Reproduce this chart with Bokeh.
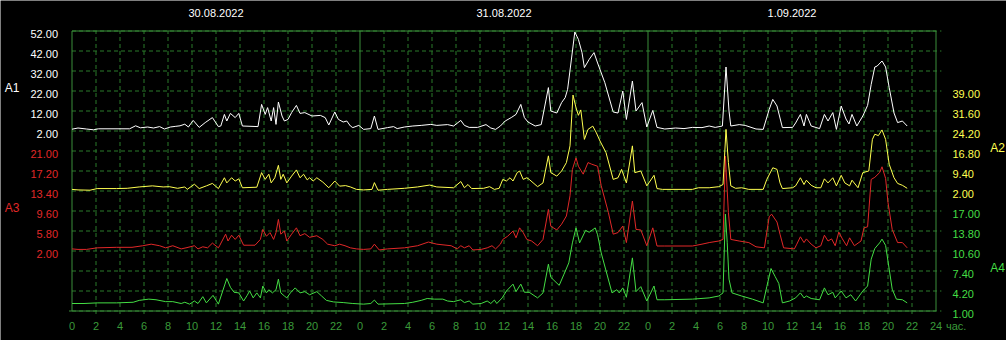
from bokeh.plotting import figure
from bokeh.models import Range1d
from bokeh.core.properties import value
from bokeh.embed import file_html
from bokeh.resources import INLINE

# ---------------- data (hours from 30.08.2022 00:00) ----------------
dates = ["30.08.2022", "31.08.2022", "1.09.2022"]
date_pos = [12, 36, 60]
hour_ticks = list(range(0, 73, 2))

a1_t = [0, 0.5, 1.2, 1.8, 2.2, 4.8, 5.3, 5.7, 6.3, 6.8, 7.3, 7.7, 8.2, 8.6, 9.0, 9.4, 9.7, 10.1, 10.6, 11.1,
        11.7, 12.2, 12.4, 12.7, 12.9, 13.2, 13.6, 13.9, 14.2, 15.5, 15.8, 16.1, 16.3, 16.6, 16.8, 17.0, 17.2,
        17.5, 17.7, 18.0, 18.3, 18.7, 19.0, 19.4, 20.0, 20.7, 21.1, 21.4, 21.9, 22.2, 22.6, 22.9, 23.2, 23.4,
        23.9, 24.3, 24.9, 25.2, 25.5, 26.3, 26.8, 27.1, 27.7, 28.4, 29.1, 29.9, 30.4, 31.3, 31.8, 32.4, 32.7,
        33.1, 33.8, 34.5, 34.9, 35.3, 35.7, 36.1, 36.6, 37.0, 37.4, 37.7, 38.0, 38.6, 39.1, 39.7, 39.9, 40.4,
        40.8, 41.1, 41.3, 41.6, 41.9, 42.2, 42.5, 42.7, 43.1, 43.5, 43.8, 44.4, 45.1, 45.5, 45.9, 46.2, 46.7,
        47.0, 47.5, 47.9, 48.4, 48.75, 49.4, 50.3, 51.0, 51.7, 52.5, 53.1, 53.6, 54.2, 54.5, 54.75, 54.9, 55.6,
        56.1, 57.0, 57.6, 58.1, 58.4, 58.75, 59.2, 60.05, 60.3, 60.7, 61.0, 61.2, 61.6, 62.3, 62.7, 63.0, 63.4,
        63.7, 64.1, 64.5, 64.75, 65.0, 65.4, 65.9, 66.3, 66.6, 66.9, 67.1, 67.5, 67.8, 68.1, 68.5, 68.8, 69.2,
        69.6]
a1_v = [2.9, 3.5, 3.0, 2.6, 3.1, 3.1, 4.6, 3.6, 4.0, 3.5, 4.2, 3.0, 4.0, 4.3, 4.6, 5.4, 4.0, 7.3, 3.8, 6.2,
        8.7, 4.2, 4.5, 10.3, 7.0, 10.8, 8.7, 10.8, 4.5, 4.2, 15.3, 10.3, 13.7, 7.0, 13.7, 5.3, 16.5,
        9.5, 7.0, 7.8, 11.2, 14.8, 10.8, 11.2, 9.5, 9.8, 8.7, 5.0, 11.5, 7.8, 6.5, 7.0, 4.5, 3.7,
        4.8, 2.8, 3.2, 9.5, 2.8, 3.7, 4.2, 3.2, 4.0, 4.5, 4.8, 5.3, 4.8, 5.2, 4.5, 7.3, 4.8,
        3.8, 3.8, 5.2, 3.5, 2.8, 4.5, 7.0, 8.7, 10.3, 15.3, 8.7, 6.5, 4.5, 5.2, 23.7, 12.0, 11.0,
        16.2, 18.7, 22.8, 37.0, 51.5, 47.8, 41.2, 33.7, 37.8, 41.2, 36.0, 26.2, 11.5, 11.0, 22.0, 7.8, 27.0,
        12.0, 16.2, 4.0, 12.3, 3.8, 3.0, 3.5, 3.2, 3.8, 3.7, 4.5, 3.8, 4.5, 34.0, 12.0, 4.5, 5.2,
        4.8, 3.0, 2.8, 12.8, 17.8, 14.5, 3.7, 3.8, 6.0, 10.3, 4.5, 10.3, 4.5, 3.2, 10.3, 7.0, 11.2,
        2.8, 14.5, 8.0, 5.5, 10.3, 4.5, 9.5, 14.8, 25.3, 34.0, 34.5, 37.0, 34.0, 23.7, 11.0, 6.2, 7.0,
        4.5]

a2_t = [0, 0.5, 1.5, 2.1, 3.7, 4.6, 5.6, 6.7, 7.6, 8.1, 8.8, 9.4, 9.6, 10.2, 10.6, 11.2, 11.7, 12.2, 12.7,
        12.9, 13.3, 13.6, 13.9, 14.2, 15.4, 15.8, 16.1, 16.4, 16.6, 16.9, 17.2, 17.4, 17.6, 17.9, 18.3, 18.7,
        19.0, 19.3, 19.6, 19.8, 20.1, 20.4, 20.9, 21.4, 21.9, 22.3, 22.8, 23.2, 23.7, 24.3, 25.0, 25.2, 25.5,
        26.3, 27.7, 28.8, 29.8, 30.4, 31.8, 32.4, 32.7, 33.0, 33.3, 34.3, 34.8, 35.2, 35.6, 35.9, 36.2, 36.5,
        36.75, 37.1, 37.3, 37.6, 37.9, 38.1, 38.8, 39.25, 39.7, 39.9, 40.4, 40.8, 41.2, 41.5, 41.75, 42.0,
        42.2, 42.4, 42.7, 43.0, 43.4, 43.7, 44.0, 44.5, 45.1, 45.5, 45.8, 46.2, 46.7, 46.9, 47.4, 47.9, 48.5,
        48.75, 49.2, 51.7, 52.2, 53.1, 53.9, 54.25, 54.5, 54.7, 54.9, 55.3, 55.8, 56.4, 57.6, 57.9, 58.4,
        58.75, 59.0, 59.2, 60.05, 60.3, 60.7, 61.0, 61.2, 61.6, 62.0, 62.4, 62.7, 63.0, 63.4, 63.7, 64.1, 64.4,
        64.8, 65.0, 65.5, 65.9, 66.4, 66.7, 66.9, 67.2, 67.5, 67.8, 68.1, 68.5, 68.8, 69.2, 69.6]
a2_v = [2.6, 2.4, 2.3, 2.9, 2.9, 3.0, 3.5, 3.9, 3.5, 3.6, 3.0, 3.5, 2.6, 4.5, 2.9, 3.9, 4.8, 2.9, 6.9,
        5.0, 6.9, 5.7, 6.5, 3.2, 3.4, 8.8, 6.3, 8.2, 5.0, 6.9, 11.5, 6.3, 8.2, 5.0, 7.5, 9.8,
        6.9, 8.2, 6.1, 6.9, 5.7, 6.9, 5.3, 3.2, 5.7, 3.8, 4.0, 3.5, 2.6, 2.4, 2.6, 5.1, 2.3,
        2.6, 3.0, 3.5, 4.2, 3.5, 3.2, 5.5, 3.2, 4.4, 2.9, 3.0, 3.6, 2.6, 3.0, 6.3, 5.7, 6.9,
        5.7, 8.8, 9.4, 6.3, 6.9, 6.3, 3.6, 5.0, 15.0, 8.8, 7.5, 9.4, 12.5, 18.7, 37.5, 32.8,
        30.0, 32.0, 21.1, 24.8, 26.0, 23.5, 20.5, 16.2, 6.3, 6.9, 10.0, 5.0, 18.7, 8.8, 9.4, 3.9, 7.8,
        2.9, 2.6, 2.6, 3.2, 3.2, 3.6, 4.4, 24.8, 12.5, 3.9, 3.0, 3.2, 2.6, 2.6, 6.3, 10.6,
        10.0, 5.0, 2.9, 3.2, 3.9, 6.9, 4.4, 6.0, 4.1, 3.2, 3.2, 6.5, 5.0, 6.9, 3.9, 7.8, 5.0,
        3.9, 6.0, 3.2, 8.8, 9.4, 21.1, 23.0, 22.5, 24.6, 21.1, 11.9, 6.9, 4.8, 4.1, 3.0]

a3_t = [0, 0.5, 1.2, 2.1, 3.7, 5.0, 5.9, 6.6, 7.3, 7.8, 8.4, 9.1, 9.5, 10.2, 10.5, 10.9, 11.3, 11.7, 12.2,
        12.3, 12.8, 13.0, 13.3, 13.6, 13.9, 14.3, 15.25, 15.7, 15.9, 16.2, 16.5, 16.8, 17.0, 17.2, 17.4, 17.7,
        17.9, 18.3, 18.7, 19.0, 19.4, 19.8, 20.4, 20.9, 21.3, 21.9, 22.3, 22.75, 23.2, 23.7, 24.3, 24.9, 25.2,
        25.6, 26.3, 27.7, 28.8, 29.7, 30.4, 31.6, 32.1, 32.4, 32.7, 33.1, 33.4, 34.1, 34.6, 35.0, 35.3, 35.7,
        35.9, 36.3, 36.75, 37.0, 37.3, 37.6, 37.9, 38.3, 38.8, 39.25, 39.7, 39.9, 40.4, 40.8, 41.2, 41.5, 41.7,
        42.0, 42.2, 42.6, 43.0, 43.3, 43.8, 44.1, 44.7, 45.1, 45.5, 45.9, 46.2, 46.7, 47.0, 47.4, 47.9, 48.4,
        48.75, 49.4, 51.7, 52.5, 53.1, 53.9, 54.25, 54.45, 54.7, 54.9, 55.6, 56.4, 57.0, 57.7, 58.1, 58.3,
        58.75, 59.0, 59.3, 60.2, 60.4, 60.7, 61.0, 61.2, 61.6, 62.0, 62.4, 62.7, 63.0, 63.3, 63.6, 63.9, 64.2,
        64.55, 64.8, 65.2, 65.75, 66.0, 66.3, 66.6, 66.9, 67.3, 67.5, 67.8, 68.0, 68.35, 68.8, 69.2, 69.6]
a3_v = [2.4, 2.3, 2.3, 2.6, 2.7, 2.7, 3.0, 3.3, 3.0, 2.6, 3.0, 2.4, 2.6, 3.0, 2.4, 2.8, 2.6, 3.5, 2.6,
        3.0, 5.2, 3.9, 5.0, 4.2, 5.0, 3.1, 3.1, 4.2, 6.1, 4.8, 5.5, 4.2, 5.5, 8.0, 5.2, 5.8,
        3.9, 5.2, 6.4, 4.9, 5.3, 4.6, 4.9, 4.2, 3.3, 3.0, 3.3, 3.0, 2.6, 2.4, 2.3, 2.4, 3.3,
        2.2, 2.4, 2.6, 3.0, 3.7, 3.3, 3.0, 2.4, 3.0, 2.6, 3.0, 2.2, 2.3, 2.6, 3.0, 2.4, 3.3,
        4.2, 4.8, 5.8, 4.5, 6.4, 5.5, 4.2, 3.9, 3.0, 4.2, 9.9, 6.7, 6.0, 7.1, 8.65, 12.5, 17.5,
        19.7, 18.1, 16.6, 18.8, 18.5, 18.1, 14.4, 9.3, 5.2, 5.5, 6.75, 3.6, 11.5, 6.1, 6.0, 3.0, 6.4,
        2.95, 2.95, 2.95, 3.3, 3.6, 3.9, 4.2, 20.0, 9.3, 4.2, 3.9, 3.6, 2.8, 2.6, 8.5, 9.0,
        7.5, 5.2, 2.6, 2.4, 3.3, 4.7, 3.6, 4.3, 3.3, 2.6, 3.0, 5.0, 3.9, 4.3, 3.0, 5.6, 4.3,
        3.0, 4.5, 3.0, 3.9, 6.4, 6.6, 15.6, 16.0, 16.9, 18.0, 15.8, 11.2, 6.1, 3.6, 3.6, 2.6]

a4_t = [0, 1.0, 2.1, 3.7, 5.1, 5.6, 6.4, 7.0, 7.8, 8.4, 9.1, 9.4, 9.8, 10.2, 10.5, 10.9, 11.2, 11.75, 12.2,
        12.9, 13.2, 13.5, 13.9, 14.3, 14.6, 14.8, 15.1, 15.4, 15.7, 15.9, 16.2, 16.4, 16.7, 17.0, 17.2, 17.4,
        17.7, 17.9, 18.2, 18.6, 19.0, 19.4, 19.8, 20.4, 20.8, 21.2, 21.8, 22.6, 23.4, 24.3, 24.9, 25.2, 25.5,
        27.7, 28.4, 29.1, 29.6, 30.2, 30.9, 31.3, 31.8, 32.4, 32.7, 33.1, 33.4, 34.1, 34.6, 34.9, 35.2, 35.4,
        35.85, 36.2, 36.75, 37.0, 37.4, 37.7, 38.1, 38.8, 39.25, 39.7, 39.9, 40.6, 41.0, 41.4, 41.7, 42.0,
        42.3, 42.8, 43.1, 43.6, 43.8, 44.1, 45.0, 45.4, 45.6, 45.9, 46.2, 46.7, 47.0, 47.4, 47.9, 48.5, 48.75,
        49.4, 51.7, 53.1, 53.9, 54.25, 54.45, 54.6, 54.75, 55.0, 55.8, 56.7, 57.6, 57.9, 58.25, 58.6, 58.9,
        59.2, 59.8, 60.3, 60.7, 61.0, 61.2, 61.6, 62.3, 62.7, 63.0, 63.4, 63.6, 64.1, 64.5, 64.9, 65.3, 65.9,
        66.3, 66.6, 66.9, 67.3, 67.5, 67.8, 68.1, 68.35, 68.7, 69.2, 69.6]
a4_v = [2.2, 2.2, 2.3, 2.3, 2.4, 2.7, 2.9, 2.8, 2.5, 2.5, 2.2, 2.4, 2.1, 2.6, 2.2, 3.3, 2.3, 3.5, 2.1,
        6.2, 4.8, 4.0, 3.9, 2.6, 3.5, 4.2, 3.1, 3.9, 3.1, 5.0, 3.9, 4.4, 3.9, 4.4, 6.1, 3.9,
        3.4, 3.1, 3.9, 4.7, 3.9, 4.1, 3.6, 4.1, 3.4, 2.7, 2.45, 2.35, 2.2, 2.1, 2.2, 2.75, 2.1,
        2.2, 2.4, 2.7, 3.0, 2.9, 2.9, 2.6, 2.5, 2.8, 2.35, 2.6, 2.1, 2.2, 2.6, 2.2, 2.75, 2.2,
        3.1, 4.2, 5.3, 4.1, 5.3, 4.0, 4.0, 3.1, 3.9, 8.5, 6.4, 5.1, 6.9, 8.7, 11.9, 14.3,
        11.9, 13.9, 13.6, 14.3, 13.2, 10.3, 3.9, 4.4, 3.9, 4.7, 3.2, 9.5, 4.1, 4.9, 2.6, 5.0, 2.8,
        2.8, 2.9, 3.1, 3.4, 3.9, 16.5, 12.0, 6.1, 3.9, 3.4, 2.9, 2.3, 4.9, 7.8, 6.5, 5.4,
        2.3, 2.6, 3.1, 3.9, 3.1, 3.4, 3.0, 2.8, 4.7, 3.6, 4.0, 3.1, 4.2, 3.1, 3.6, 2.6, 4.2,
        5.0, 9.3, 11.0, 11.9, 12.5, 11.5, 7.7, 4.5, 2.9, 2.8, 2.3]

a1_ticks = [2.0, 12.0, 22.0, 32.0, 42.0, 52.0]
a2_ticks = [2.0, 9.4, 16.8, 24.2, 31.6, 39.0]
a3_ticks = [2.0, 5.8, 9.6, 13.4, 17.2, 21.0]
a4_ticks = [1.0, 4.2, 7.4, 10.6, 13.8, 17.0]

# ---------------- layout / style ----------------
W, H = 1006, 340
PX_H = 12.0            # pixels per hour
PX_G = 20.0            # pixels per grid row
X0, Y0 = 71.5, 310.5   # pixel position of hour 0 / grid row 0
NROWS = 14
# per-channel scale: value = base + step * grid_row
scales = {"a1": (-88.0, 10.0), "a2": (-42.4, 7.4), "a3": (-9.4, 3.8), "a4": (1.0, 3.2)}

BG = "black"
GRID = "#2a7a2a"
FRAME = "#3a8e3a"
XLAB = "#3a9a3a"
C1, C2, C3, C4 = "#ffffff", "#ffff50", "#e02828", "#44dd44"
FONT = value("Liberation Sans")
FS = value("11px")

g_lo, g_hi = (Y0 - H) / PX_G, Y0 / PX_G
p = figure(width=W, height=H,
           x_range=Range1d(-X0 / PX_H, (W - X0) / PX_H),
           y_range=Range1d(g_lo, g_hi),
           output_backend="svg", toolbar_location=None,
           x_axis_location=None, y_axis_location=None,
           min_border=0, outline_line_color=None,
           background_fill_color=BG, border_fill_color=BG)
p.xgrid.visible = False
p.ygrid.visible = False
p.extra_y_ranges = {k: Range1d(b + s * g_lo, b + s * g_hi) for k, (b, s) in scales.items()}

# dashed grid
rows = list(range(0, NROWS + 1))
p.segment(x0=[0] * len(rows), x1=[72.45] * len(rows), y0=rows, y1=rows,
          line_color=GRID, line_width=1, line_dash="4 3")
vt = [h for h in hour_ticks if h % 24]
p.segment(x0=vt, x1=vt, y0=[-0.15] * len(vt), y1=[NROWS] * len(vt),
          line_color=GRID, line_width=1, line_dash="4 3")
# solid frame + day separators
p.quad(left=[0], right=[72], bottom=[0], top=[NROWS], fill_color=None, line_color=FRAME, line_width=1)
days = [24, 48]
p.segment(x0=days, x1=days, y0=[0, 0], y1=[NROWS, NROWS], line_color=FRAME, line_width=1)
p.segment(x0=[-0.25], x1=[0], y0=[0], y1=[0], line_color=FRAME, line_width=1)

# series
for t, v, rn, c in ((a4_t, a4_v, "a4", C4), (a3_t, a3_v, "a3", C3),
                    (a2_t, a2_v, "a2", C2), (a1_t, a1_v, "a1", C1)):
    p.line(t, v, y_range_name=rn, line_color=c, line_width=1)

# x tick labels
xl = [str(h % 24) if h < 72 else "24" for h in hour_ticks]
p.text(x=hour_ticks, y=[0] * len(hour_ticks), text=xl, y_offset=15, text_align="center",
       text_baseline="middle", text_color=XLAB, text_font=FONT, text_font_size=FS)
p.text(x=[72], y=[0], text=["час."], x_offset=10, y_offset=15, text_align="left",
       text_baseline="middle", text_color=XLAB, text_font=FONT, text_font_size=FS)
# dates
p.text(x=date_pos, y=[NROWS] * 3, text=dates, y_offset=-18.5, text_align="center",
       text_baseline="middle", text_color="white", text_font=FONT, text_font_size=FS)

# channel tick labels
LEFT_X = (57.5 - X0) / PX_H
RIGHT_X = (952.0 - X0) / PX_H
for ticks, rn, c, xpos, align in ((a1_ticks, "a1", C1, LEFT_X, "right"),
                                  (a3_ticks, "a3", C3, LEFT_X, "right"),
                                  (a2_ticks, "a2", C2, RIGHT_X, "left"),
                                  (a4_ticks, "a4", C4, RIGHT_X, "left")):
    p.text(x=[xpos] * len(ticks), y=ticks, text=[f"{v:.2f}" for v in ticks], y_range_name=rn,
           y_offset=3, text_align=align, text_baseline="middle", text_color=c,
           text_font=FONT, text_font_size=FS)

# channel names
for name, xp, yp, c in (("A1", 11.5, 87.0, C1), ("A3", 11.5, 207.0, C3),
                        ("A2", 997.0, 147.0, C2), ("A4", 997.0, 267.0, C4)):
    p.text(x=[(xp - X0) / PX_H], y=[(Y0 - yp) / PX_G], text=[name], text_align="center",
           text_baseline="middle", text_color=c, text_font=FONT, text_font_size=value("12px"))

open("out.html", "w").write(file_html(p, INLINE))
